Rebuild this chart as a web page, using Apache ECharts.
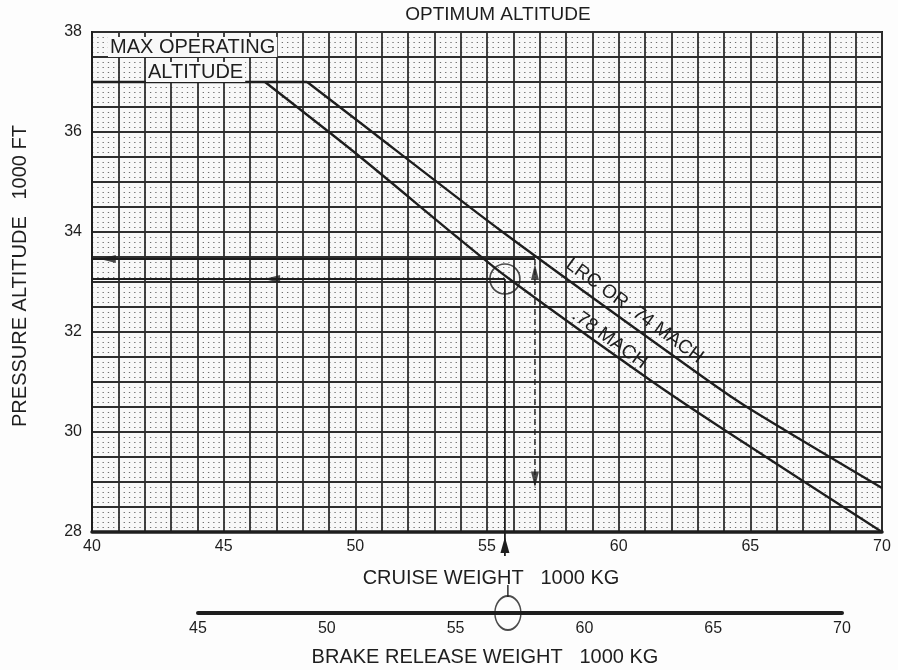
<!DOCTYPE html>
<html>
<head>
<meta charset="utf-8">
<script src="https://cdn.jsdelivr.net/npm/echarts@6/dist/echarts.min.js"></script>
<style>
html, body { margin: 0; padding: 0; background: #fff; }
#main { width: 898px; height: 670px; }
</style>
</head>
<body>
<div id="main"></div>
<script>
// cruise weight (1000 kg) against pressure altitude (1000 ft)
const lrcWeight = [48.17, 50, 55.49, 63.2, 64.99, 70];
const lrcAlt = [37.0, 36.26, 34.04, 31.1, 30.46, 28.88];
const m78Weight = [46.57, 50, 53.86, 55.75, 61.19, 63.96, 70];
const m78Alt = [37.0, 35.58, 33.9, 33.1, 31.04, 30.06, 28.0];
const maxOpWeight = [40, 48.17];
const maxOpAlt = [37, 37];

// worked example drawn on the chart
const exWeight = 55.68;
const exAlt = 33.06;
const topAlt = 33.46;
const dashWeight = 56.82;
const dashAlt = [33.46, 28.84];
const brakeWeight = 57.03;

const cruiseTicks = [40, 45, 50, 55, 60, 65, 70];
const altTicks = [28, 30, 32, 34, 36, 38];
const brakeTicks = [45, 50, 55, 60, 65, 70];

const FONT = "'Liberation Sans', Arial, sans-serif";
const INK = '#1e1e1e';
const PAPER = '#f8f8f8';

function zip(xs, ys) {
    return xs.map((x, i) => [x, ys[i]]);
}

let myChart = echarts.init(document.getElementById('main'));

const thin = { color: INK, width: 1.8 };

myChart.setOption({
    backgroundColor: '#fdfdfd',
    animation: false,
    grid: [
        { left: 92, right: 16, top: 32, bottom: 138, show: true, borderColor: INK, borderWidth: 2, backgroundColor: PAPER },
        { left: 198, right: 56, top: 611, height: 2 }
    ],
    xAxis: [
        {
            type: 'value', min: 40, max: 70, interval: 1, gridIndex: 0,
            axisLine: { show: true, lineStyle: { color: INK, width: 3.5 } },
            axisTick: { show: false },
            axisLabel: {
                color: INK, fontSize: 16, fontFamily: FONT, margin: 7,
                formatter: v => cruiseTicks.includes(v) ? String(v) : ''
            },
            splitLine: { show: true, lineStyle: { color: '#2e2e2e', width: 1.8 } },
            minorTick: { show: false, splitNumber: 5 },
            minorSplitLine: { show: false }
        },
        {
            type: 'value', min: 45, max: 70, interval: 5, gridIndex: 1,
            axisLine: { show: true, lineStyle: { color: INK, width: 4 } },
            axisTick: { show: false },
            axisLabel: {
                color: INK, fontSize: 16, fontFamily: FONT, margin: 8,
                formatter: v => brakeTicks.includes(v) ? String(v) : ''
            },
            splitLine: { show: false }
        }
    ],
    yAxis: [
        {
            type: 'value', min: 28, max: 38, interval: 0.5, gridIndex: 0,
            name: 'PRESSURE ALTITUDE   1000 FT',
            nameLocation: 'middle', nameGap: 62, nameRotate: 90,
            nameTextStyle: { color: INK, fontSize: 20, fontFamily: FONT, padding: [0, 0, 0, 12] },
            axisLine: { show: true, lineStyle: { color: INK, width: 2 } },
            axisTick: { show: false },
            axisLabel: {
                color: INK, fontSize: 16, fontFamily: FONT, margin: 10,
                formatter: v => altTicks.includes(v) ? String(v) : ''
            },
            splitLine: { show: true, lineStyle: { color: '#2e2e2e', width: 1.8 } },
            minorTick: { show: false, splitNumber: 5 },
            minorSplitLine: { show: true, lineStyle: { color: '#6e6e6e', width: 1.1, type: [1.3, 3.97] } }
        },
        { type: 'value', min: 0, max: 1, gridIndex: 1, show: false }
    ],
    series: [
        {
            name: 'LRC OR .74 MACH', type: 'line', data: zip(lrcWeight, lrcAlt),
            showSymbol: false, smooth: 0.25, lineStyle: { color: INK, width: 2.3 }, z: 5
        },
        {
            name: '.78 MACH', type: 'line', data: zip(m78Weight, m78Alt),
            showSymbol: false, smooth: 0.25, lineStyle: { color: INK, width: 2.3 }, z: 5
        },
        {
            name: 'MAX OPERATING ALTITUDE', type: 'line', data: zip(maxOpWeight, maxOpAlt),
            showSymbol: false, lineStyle: { color: INK, width: 2.6 }, z: 5
        },
        {
            type: 'line', data: [[40, exAlt], [exWeight, exAlt]],
            showSymbol: false, lineStyle: thin, z: 5
        },
        {
            type: 'line', data: [[40, topAlt], [dashWeight, topAlt]],
            showSymbol: false, lineStyle: thin, z: 5
        },
        {
            type: 'line', data: [[exWeight, exAlt], [exWeight, 28]],
            showSymbol: false, lineStyle: thin, z: 5
        },
        {
            type: 'line', data: [[dashWeight, dashAlt[0]], [dashWeight, dashAlt[1]]],
            showSymbol: false, lineStyle: { color: INK, width: 1.4, type: [6, 4] }, z: 5
        },
        {
            // arrow heads: [weight, altitude, rotation]
            type: 'scatter', symbol: 'triangle', symbolSize: [8, 16],
            symbolRotate: (v) => v[2],
            itemStyle: { color: INK },
            data: [[46.84, exAlt, 90], [40.6, topAlt, 90], [dashWeight, 33.2, 0], [dashWeight, 29.05, 180]],
            z: 6
        },
        {
            type: 'scatter', symbol: 'circle', symbolSize: 30,
            itemStyle: { color: 'rgba(0,0,0,0)', borderColor: INK, borderWidth: 1.6 },
            data: [[exWeight, exAlt]], z: 6
        },
        {
            type: 'scatter', xAxisIndex: 1, yAxisIndex: 1, symbol: 'circle', symbolSize: [26, 34],
            itemStyle: { color: 'rgba(0,0,0,0)', borderColor: INK, borderWidth: 1.6 },
            data: [[brakeWeight, 0]], z: 6
        }
    ]
});

// pieces that sit outside the plot, placed through the axes
const foot = myChart.convertToPixel({ gridIndex: 0 }, [exWeight, 28]);
const brake = myChart.convertToPixel({ gridIndex: 1 }, [brakeWeight, 0]);
const lrcLab = myChart.convertToPixel({ gridIndex: 0 }, [60.6, 32.42]);
const m78Lab = myChart.convertToPixel({ gridIndex: 0 }, [59.65, 31.86]);
const tilt = -36 * Math.PI / 180;

function label(text, x, y, size, extra) {
    return Object.assign({
        type: 'text', x: x, y: y, z: 20,
        style: { text: text, font: size + 'px ' + FONT, fill: INK, align: 'center', verticalAlign: 'middle' }
    }, extra || {});
}

myChart.setOption({
    graphic: [
        label('OPTIMUM ALTITUDE', 498, 15, 19),
        label('CRUISE WEIGHT   1000 KG', 491, 578, 20),
        label('BRAKE RELEASE WEIGHT   1000 KG', 485, 657, 20),
        {
            type: 'text', x: 108, y: 47, z: 20,
            style: { text: 'MAX OPERATING', font: '20px ' + FONT, fill: INK, align: 'left', verticalAlign: 'middle',
                     backgroundColor: PAPER, padding: [0, 2] }
        },
        {
            type: 'text', x: 146, y: 72, z: 20,
            style: { text: 'ALTITUDE', font: '20px ' + FONT, fill: INK, align: 'left', verticalAlign: 'middle',
                     backgroundColor: PAPER, padding: [0, 2] }
        },
        label('LRC OR .74 MACH', lrcLab[0], lrcLab[1], 19, { rotation: tilt }),
        label('.78 MACH', m78Lab[0], m78Lab[1], 19, { rotation: tilt }),
        {
            type: 'line', z: 10,
            shape: { x1: foot[0], y1: foot[1], x2: foot[0], y2: foot[1] + 24 },
            style: { stroke: INK, lineWidth: 1.8 }
        },
        {
            type: 'polygon', z: 10,
            shape: { points: [[foot[0], foot[1] + 5], [foot[0] - 4.5, foot[1] + 21], [foot[0] + 4.5, foot[1] + 21]] },
            style: { fill: INK }
        },
        {
            type: 'line', z: 10,
            shape: { x1: brake[0], y1: brake[1] - 28, x2: brake[0], y2: brake[1] - 16 },
            style: { stroke: INK, lineWidth: 1.4 }
        }
    ]
});
</script>
</body>
</html>
